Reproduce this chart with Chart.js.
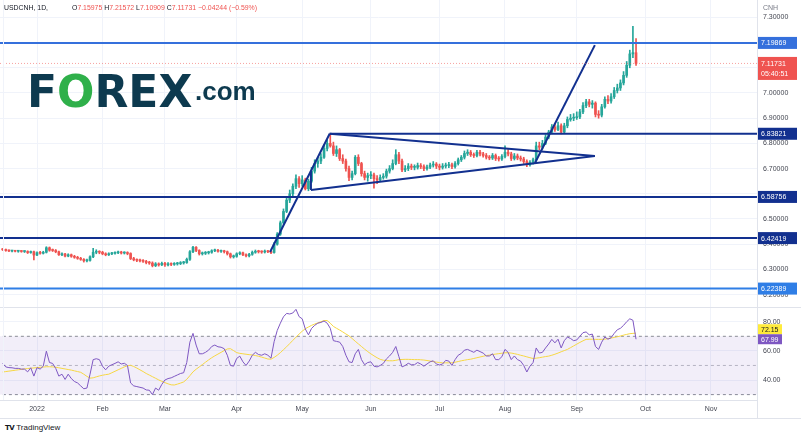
<!DOCTYPE html>
<html>
<head>
<meta charset="utf-8">
<title>USDCNH 1D</title>
<script src="https://cdn.jsdelivr.net/npm/chart.js@4.4.1/dist/chart.umd.min.js"></script>
<style>
  html, body { margin: 0; padding: 0; background: #ffffff; }
  #wrap { position: relative; width: 801px; height: 438px; overflow: hidden; font-family: "Liberation Sans", Arial, sans-serif; }
  #wrap canvas { position: absolute; left: 0; }
  #priceCanvas { top: 0; }
  #rsiCanvas { top: 307px; }
  .line { position: absolute; background: #e0e3eb; }
  #header { position: absolute; top: 4px; left: 4px; width: 300px; height: 9px; font-size: 6.9px; line-height: 8px; color: #131722; white-space: pre; }
  #header .vals { position: absolute; left: 68px; top: 0; }
  #header .red { color: #ef5350; }
  #logo { position: absolute; left: 27px; top: 70px; font-family: "DejaVu Sans"; font-weight: bold; font-size: 44px; line-height: 44px; color: #0d3a4f; white-space: pre; }
  #logo .o { color: #2fb04a; }
  #logoCom { position: absolute; left: 195px; top: 78px; font-family: "Liberation Sans"; font-weight: bold; font-size: 26px; line-height: 26px; color: #0d3a4f; }
  #footer { position: absolute; left: 5px; top: 423px; font-size: 8px; line-height: 10px; color: #131722; white-space: pre; }
  #footer b { font-family: "DejaVu Sans"; font-weight: 900; font-size: 7px; letter-spacing: -0.5px; }
</style>
</head>
<body>
<div id="wrap">
  <canvas id="priceCanvas" width="801" height="307"></canvas>
  <canvas id="rsiCanvas" width="801" height="111"></canvas>
  <div class="line" style="left:0;top:307px;width:801px;height:1px;"></div>
  <div class="line" style="left:0;top:418px;width:801px;height:1px;"></div>
  <div class="line" style="left:757px;top:0;width:1px;height:419px;"></div>
  <div class="line" style="left:3px;top:0;width:1px;height:400px;background:#f0f3fa;"></div>
  <div id="header"></div>
  <div id="logo">F<span class="o">O</span>REX</div>
  <div id="logoCom">.com</div>
  <div id="footer"><b>TV</b> TradingView</div>
</div>
<script>
// ---- values (USDCNH daily candles, mid Dec 2021 .. 28 Sep 2022) ----
// bar index 0 = 3 Jan 2022, one step per trading day
const firstBar = -11;
const monthStarts = [0, 21, 41, 64, 85, 107, 129, 150, 173, 195, 216];
const monthLabels = ['2022', 'Feb', 'Mar', 'Apr', 'May', 'Jun', 'Jul', 'Aug', 'Sep', 'Oct', 'Nov'];

const opens = [
  6.380, 6.378, 6.375, 6.373, 6.373, 6.372, 6.372, 6.371, 6.371, 6.367, 6.370,
  6.357, 6.366, 6.364, 6.368, 6.386, 6.376, 6.375, 6.370, 6.358, 6.361, 6.353, 6.358, 6.352, 6.348, 6.344, 6.340, 6.334, 6.336, 6.350, 6.368, 6.370,
  6.368, 6.362, 6.358, 6.362, 6.364, 6.366, 6.368, 6.365, 6.366, 6.363, 6.343, 6.338, 6.336, 6.334, 6.332, 6.327, 6.325, 6.315, 6.322, 6.318,
  6.324, 6.318, 6.322, 6.320, 6.322, 6.323, 6.326, 6.327, 6.340, 6.370, 6.388, 6.375, 6.362, 6.364, 6.366, 6.368, 6.374, 6.376, 6.372, 6.372, 6.370, 6.362, 6.350,
  6.352, 6.362, 6.366, 6.358, 6.354, 6.360, 6.368, 6.372, 6.370, 6.369, 6.372, 6.370, 6.367, 6.400, 6.440, 6.485, 6.530, 6.575, 6.600, 6.630, 6.660,
  6.640, 6.655, 6.620, 6.650, 6.690, 6.720, 6.730, 6.745, 6.780, 6.800, 6.790, 6.760, 6.775, 6.740, 6.730, 6.700, 6.665, 6.680, 6.745, 6.720, 6.680, 6.665,
  6.672, 6.675, 6.660, 6.655, 6.665, 6.670, 6.690, 6.700, 6.720, 6.755, 6.730, 6.695, 6.700, 6.710, 6.705, 6.705, 6.712, 6.708, 6.700, 6.706, 6.714, 6.718,
  6.710, 6.705, 6.710, 6.712, 6.715, 6.708, 6.720, 6.735, 6.745, 6.760, 6.765, 6.755, 6.752, 6.765, 6.758, 6.752, 6.745, 6.742, 6.752, 6.740, 6.738,
  6.748, 6.765, 6.758, 6.740, 6.750, 6.742, 6.738, 6.728, 6.715, 6.725, 6.735, 6.790, 6.785, 6.800, 6.825, 6.845, 6.865, 6.855, 6.870, 6.845, 6.870, 6.895, 6.900,
  6.902, 6.905, 6.925, 6.950, 6.965, 6.955, 6.960, 6.915, 6.912, 6.945, 6.975, 6.968, 6.985, 7.010, 7.020, 7.040, 7.070, 7.110, 7.155, 7.15975
];
const highs = [
  6.383, 6.381, 6.378, 6.376, 6.376, 6.375, 6.375, 6.374, 6.374, 6.373, 6.373,
  6.370, 6.372, 6.372, 6.390, 6.389, 6.381, 6.379, 6.373, 6.366, 6.364, 6.362, 6.361, 6.356, 6.352, 6.348, 6.343, 6.341, 6.354, 6.384, 6.378, 6.374,
  6.372, 6.366, 6.366, 6.368, 6.370, 6.373, 6.372, 6.370, 6.370, 6.366, 6.348, 6.342, 6.341, 6.339, 6.336, 6.332, 6.330, 6.327, 6.326, 6.329,
  6.328, 6.327, 6.326, 6.327, 6.328, 6.331, 6.332, 6.345, 6.375, 6.392, 6.391, 6.378, 6.369, 6.371, 6.372, 6.378, 6.381, 6.380, 6.377, 6.376, 6.373, 6.365, 6.357,
  6.366, 6.370, 6.369, 6.362, 6.364, 6.373, 6.377, 6.376, 6.374, 6.377, 6.376, 6.374, 6.406, 6.446, 6.492, 6.540, 6.590, 6.615, 6.640, 6.675, 6.668,
  6.672, 6.662, 6.658, 6.705, 6.735, 6.745, 6.760, 6.795, 6.815, 6.838, 6.805, 6.790, 6.780, 6.755, 6.738, 6.710, 6.690, 6.752, 6.755, 6.725, 6.690, 6.682,
  6.688, 6.682, 6.672, 6.675, 6.680, 6.698, 6.712, 6.735, 6.775, 6.765, 6.738, 6.712, 6.720, 6.718, 6.715, 6.722, 6.720, 6.715, 6.714, 6.722, 6.728, 6.724,
  6.718, 6.720, 6.722, 6.725, 6.722, 6.728, 6.742, 6.752, 6.770, 6.775, 6.772, 6.762, 6.772, 6.772, 6.765, 6.760, 6.752, 6.760, 6.758, 6.748, 6.756,
  6.790, 6.775, 6.765, 6.760, 6.758, 6.750, 6.745, 6.735, 6.732, 6.742, 6.805, 6.805, 6.812, 6.835, 6.852, 6.875, 6.880, 6.885, 6.878, 6.880, 6.905, 6.915, 6.918,
  6.925, 6.935, 6.962, 6.975, 6.975, 6.970, 6.965, 6.930, 6.955, 6.985, 6.990, 6.998, 7.022, 7.035, 7.052, 7.085, 7.125, 7.170, 7.265, 7.21572
];
const lows = [
  6.375, 6.372, 6.370, 6.369, 6.369, 6.368, 6.368, 6.367, 6.363, 6.364, 6.338,
  6.354, 6.360, 6.361, 6.365, 6.372, 6.371, 6.366, 6.355, 6.354, 6.350, 6.350, 6.348, 6.344, 6.340, 6.336, 6.329, 6.330, 6.333, 6.347, 6.362, 6.362,
  6.358, 6.354, 6.355, 6.358, 6.360, 6.362, 6.361, 6.361, 6.358, 6.339, 6.334, 6.331, 6.330, 6.328, 6.322, 6.320, 6.310, 6.311, 6.313, 6.315,
  6.312, 6.314, 6.315, 6.316, 6.317, 6.319, 6.321, 6.324, 6.336, 6.366, 6.370, 6.357, 6.357, 6.359, 6.361, 6.364, 6.370, 6.368, 6.367, 6.365, 6.357, 6.345, 6.345,
  6.348, 6.358, 6.354, 6.350, 6.350, 6.356, 6.364, 6.365, 6.364, 6.365, 6.366, 6.362, 6.364, 6.396, 6.435, 6.480, 6.525, 6.565, 6.590, 6.620, 6.625,
  6.630, 6.615, 6.612, 6.645, 6.682, 6.705, 6.720, 6.740, 6.770, 6.785, 6.752, 6.748, 6.732, 6.720, 6.690, 6.652, 6.655, 6.675, 6.712, 6.670, 6.655, 6.650,
  6.660, 6.622, 6.640, 6.648, 6.658, 6.662, 6.682, 6.695, 6.715, 6.720, 6.688, 6.688, 6.692, 6.696, 6.695, 6.698, 6.700, 6.692, 6.694, 6.700, 6.706, 6.700,
  6.695, 6.698, 6.702, 6.704, 6.700, 6.702, 6.714, 6.728, 6.738, 6.752, 6.748, 6.744, 6.746, 6.750, 6.745, 6.738, 6.735, 6.736, 6.732, 6.730, 6.732,
  6.742, 6.750, 6.732, 6.734, 6.735, 6.730, 6.720, 6.708, 6.710, 6.718, 6.730, 6.775, 6.778, 6.795, 6.818, 6.838, 6.848, 6.850, 6.838, 6.840, 6.862, 6.888, 6.890,
  6.895, 6.898, 6.918, 6.942, 6.945, 6.940, 6.905, 6.900, 6.905, 6.940, 6.958, 6.960, 6.978, 7.000, 7.010, 7.032, 7.062, 7.100, 7.140, 7.10909
];
const closes = [
  6.378, 6.375, 6.373, 6.373, 6.372, 6.372, 6.371, 6.371, 6.367, 6.370, 6.357,
  6.366, 6.364, 6.368, 6.386, 6.376, 6.375, 6.370, 6.358, 6.361, 6.353, 6.358, 6.352, 6.348, 6.344, 6.340, 6.334, 6.336, 6.350, 6.368, 6.370, 6.368,
  6.362, 6.358, 6.362, 6.364, 6.366, 6.368, 6.365, 6.366, 6.363, 6.343, 6.338, 6.336, 6.334, 6.332, 6.327, 6.325, 6.315, 6.322, 6.318, 6.324,
  6.318, 6.322, 6.320, 6.322, 6.323, 6.326, 6.327, 6.340, 6.370, 6.388, 6.375, 6.362, 6.364, 6.366, 6.368, 6.374, 6.376, 6.372, 6.372, 6.370, 6.362, 6.350, 6.352,
  6.362, 6.366, 6.358, 6.354, 6.360, 6.368, 6.372, 6.370, 6.369, 6.372, 6.370, 6.367, 6.400, 6.440, 6.485, 6.530, 6.575, 6.600, 6.630, 6.660, 6.640,
  6.655, 6.620, 6.650, 6.690, 6.720, 6.730, 6.745, 6.780, 6.800, 6.790, 6.760, 6.775, 6.740, 6.730, 6.700, 6.665, 6.680, 6.745, 6.720, 6.680, 6.665, 6.672,
  6.675, 6.660, 6.655, 6.665, 6.670, 6.690, 6.700, 6.720, 6.755, 6.730, 6.695, 6.700, 6.710, 6.705, 6.705, 6.712, 6.708, 6.700, 6.706, 6.714, 6.718, 6.710,
  6.705, 6.710, 6.712, 6.715, 6.708, 6.720, 6.735, 6.745, 6.760, 6.765, 6.755, 6.752, 6.765, 6.758, 6.752, 6.745, 6.742, 6.752, 6.740, 6.738, 6.748,
  6.765, 6.758, 6.740, 6.750, 6.742, 6.738, 6.728, 6.715, 6.725, 6.735, 6.790, 6.785, 6.800, 6.825, 6.845, 6.865, 6.855, 6.870, 6.845, 6.870, 6.895, 6.900, 6.902,
  6.905, 6.925, 6.950, 6.965, 6.955, 6.960, 6.915, 6.912, 6.945, 6.975, 6.968, 6.985, 7.010, 7.020, 7.040, 7.070, 7.110, 7.155, 7.160, 7.11731
];

// RSI(14) and its moving average, lower pane
const rsi = [
  51.4, 49.0, 48.5, 48.4, 48.0, 48.0, 47.5, 47.5, 45.6, 48.4, 42.7,
  48.5, 47.5, 49.5, 59.8, 52.0, 51.4, 48.0, 42.7, 44.0, 40.4, 44.0, 41.0, 39.0, 38.0, 36.0, 34.0, 34.5, 44.0, 54.0, 54.6, 54.0,
  49.5, 47.0, 49.5, 50.5, 51.4, 52.5, 51.0, 51.5, 50.0, 38.0, 36.0, 35.5, 35.0, 34.5, 33.2, 33.0, 30.0, 34.5, 33.0, 37.0,
  40.0, 41.0, 41.5, 42.5, 43.5, 44.5, 45.0, 52.0, 66.0, 72.0, 64.0, 58.0, 58.0, 59.0, 60.5, 63.0, 64.0, 62.8, 62.5, 61.5, 57.0, 50.0, 49.5,
  54.8, 56.4, 52.5, 50.0, 53.0, 57.0, 59.0, 57.5, 57.0, 58.0, 57.0, 55.0, 66.3, 74.0, 79.0, 83.4, 85.7, 85.3, 86.0, 88.5, 83.5,
  82.0, 75.0, 71.0, 75.4, 77.5, 79.0, 79.5, 80.5, 79.0, 75.5, 67.0, 66.5, 66.0, 63.0, 57.0, 52.5, 52.0, 58.0, 61.0, 54.0, 50.5, 52.0,
  52.5, 49.5, 49.0, 50.0, 51.4, 54.5, 56.5, 59.0, 63.0, 56.0, 49.0, 50.0, 51.5, 50.5, 50.5, 52.0, 51.0, 49.5, 51.0, 52.5, 53.2, 51.0,
  50.3, 51.0, 53.5, 53.0, 50.0, 54.0, 57.0, 58.2, 60.5, 61.0, 60.0, 59.0, 60.5, 59.5, 58.5, 56.5, 56.5, 58.0, 54.0, 54.0, 56.0,
  61.0, 59.0, 54.0, 56.5, 54.0, 53.0, 50.0, 45.5, 49.5, 52.0, 62.0, 58.5, 59.0, 62.0, 64.7, 67.9, 65.5, 68.0, 62.0, 67.0, 69.5, 68.5, 67.0,
  67.5, 70.0, 72.5, 73.0, 71.0, 71.5, 63.0, 61.0, 66.0, 69.5, 68.0, 69.0, 72.0, 74.5, 75.5, 77.5, 80.0, 82.0, 81.0, 67.99
];
const rsiMa = [
  45.5, 45.8, 46.1, 46.4, 46.7, 47.0, 47.3, 47.6, 47.9, 48.1, 48.3,
  48.5, 48.7, 48.9, 49.1, 49.1, 49.0, 48.8, 48.4, 48.0, 47.6, 47.2, 46.8, 46.3, 45.8, 45.3, 44.0, 42.5, 41.3, 41.5, 42.2, 42.8,
  43.3, 43.7, 44.0, 45.0, 46.0, 47.0, 48.0, 49.0, 49.8, 50.1, 49.3, 48.2, 47.0, 45.8, 44.5, 43.4, 42.3, 41.2, 40.1, 39.1,
  38.2, 37.4, 36.7, 36.6, 37.2, 37.9, 38.7, 40.5, 43.0, 45.6, 47.4, 49.0, 50.6, 52.2, 53.8, 55.3, 56.6, 57.8, 59.0, 60.2, 61.3, 61.5, 60.2,
  58.8, 58.3, 58.0, 57.7, 57.4, 57.2, 56.8, 56.3, 55.7, 55.1, 54.4, 54.3, 55.5, 57.0, 58.8, 60.8, 62.8, 65.0, 67.2, 69.4, 71.5,
  73.5, 75.2, 76.4, 77.5, 78.4, 79.2, 80.0, 80.8, 80.8, 79.0, 76.8, 75.5, 74.3, 73.0, 71.6, 70.3, 68.5, 66.6, 64.8, 63.0, 61.2, 59.5,
  58.0, 56.6, 55.3, 54.2, 53.6, 53.3, 53.2, 53.2, 53.5, 54.0, 54.1, 54.2, 54.2, 54.1, 54.0, 54.0, 53.9, 53.7, 53.4, 53.0, 52.6, 52.3,
  52.0, 51.8, 51.8, 51.8, 51.8, 52.2, 52.7, 53.2, 53.6, 54.0, 54.3, 54.8, 55.3, 55.8, 56.3, 56.8, 57.1, 57.5, 57.8, 58.1, 58.4,
  58.7, 58.7, 58.5, 58.1, 57.6, 57.0, 56.5, 55.9, 55.3, 54.8, 55.0, 55.3, 55.7, 56.1, 56.4, 57.0, 57.7, 58.5, 59.4, 60.2, 61.0, 62.2, 63.4,
  64.6, 65.8, 66.9, 67.9, 68.0, 68.0, 67.9, 67.9, 67.9, 68.0, 68.4, 68.8, 69.2, 69.7, 70.2, 70.8, 71.3, 71.8, 72.0, 72.15
];

const priceTicks = [6.2, 6.3, 6.4, 6.5, 6.6, 6.7, 6.8, 6.9, 7.0, 7.1, 7.2, 7.3];
const rsiTicks = [40, 60, 80];
const rsiBands = [70, 50, 30];

// horizontal levels drawn on the chart (value, and the bar where each one starts)
const levels = [7.19869, 6.83821, 6.58756, 6.42419, 6.22389];
const levelFrom = [-12, 93.8, -12, -12, -12];
// trend lines / pennant, as [bar, price] pairs
const trendLines = [
  [[74.7, 6.369], [93.8, 6.838]],
  [[93.8, 6.838], [178.8, 6.750]],
  [[87.8, 6.615], [178.8, 6.750]],
  [[87.8, 6.615], [87.8, 6.690]],
  [[159.6, 6.722], [178.8, 7.190]]
];
const countdown = '05:40:51';

// ---- styling ----
const upColor = '#26a69a';
const downColor = '#ef5350';
const navy = '#12308f';
const lightBlue = '#3570dc';
const levelColors = [lightBlue, navy, navy, navy, '#2f7ee6'];
const gridColor = '#f0f3fa';
const axisText = '#434651';
const axisFont = { family: 'Liberation Sans', size: 7 };
const xMin = -11.86, xMax = 230.77;

const last = closes.length - 1;
const barX = closes.map((c, k) => firstBar + k);
const candleColors = closes.map((c, k) => (c >= opens[k] ? upColor : downColor));

// header line
const change = closes[last] - opens[last];
document.getElementById('header').innerHTML =
  'USDCNH, 1D,<span class="vals">O<span class="red">' + opens[last].toFixed(5) + '</span> H<span class="red">' +
  highs[last].toFixed(5) + '</span> L<span class="red">' + lows[last].toFixed(5) + '</span> C<span class="red">' +
  closes[last].toFixed(5) + '</span> <span class="red">\u2212' + Math.abs(change).toFixed(5) + ' (\u2212' +
  Math.abs(change / opens[last] * 100).toFixed(2) + '%)</span></span>';

function segment(points, color, width, dash) {
  return {
    type: 'line',
    data: points.map(p => ({ x: p[0], y: p[1] })),
    borderColor: color,
    borderWidth: width,
    borderDash: dash || [],
    pointRadius: 0,
    fill: false,
    tension: 0,
    order: 0
  };
}

function timeAxis(showLabels) {
  return {
    type: 'linear',
    min: xMin,
    max: xMax,
    offset: false,
    grid: { color: gridColor, drawTicks: false, offset: false },
    border: { display: showLabels, color: '#e0e3eb' },
    ticks: {
      display: showLabels, autoSkip: false, maxRotation: 0, padding: 5,
      color: axisText, font: axisFont,
      callback: v => monthLabels[monthStarts.indexOf(v)] || ''
    },
    afterBuildTicks: s => { s.ticks = monthStarts.map(v => ({ value: v })); },
    afterFit: s => { s.height = showLabels ? 18 : 0; s.paddingLeft = 0; s.paddingRight = 0; }
  };
}

function valueAxis(min, max, ticks, digits) {
  return {
    position: 'right',
    min: min,
    max: max,
    grid: { color: gridColor, drawTicks: false },
    border: { display: false },
    ticks: { padding: 6, color: axisText, font: axisFont, callback: v => Number(v).toFixed(digits) },
    afterBuildTicks: s => { s.ticks = ticks.map(v => ({ value: v })); },
    afterFit: s => { s.width = 44; s.paddingTop = 0; s.paddingBottom = 0; }
  };
}

function drawTag(ctx, x, yc, w, h, bg, fg, lines) {
  ctx.fillStyle = bg;
  ctx.fillRect(x, yc - h / 2, w, h + (lines.length - 1) * 10);
  ctx.fillStyle = fg;
  lines.forEach((t, k) => ctx.fillText(t, x + 4, yc + 0.5 + k * 10));
}

// tags on the price axis
const priceTags = {
  id: 'priceTags',
  afterDraw(chart) {
    const { ctx, scales: { y } } = chart;
    ctx.save();
    ctx.font = '7px "Liberation Sans"';
    ctx.textBaseline = 'middle';
    ctx.textAlign = 'left';
    levels.forEach((v, k) => {
      drawTag(ctx, y.left, y.getPixelForValue(v), 40, 12, levelColors[k], '#ffffff', [v.toFixed(5)]);
    });
    drawTag(ctx, y.left, y.getPixelForValue(closes[last]), 40, 13, downColor, '#ffffff', [closes[last].toFixed(5), countdown]);
    ctx.fillStyle = '#787b86';
    ctx.fillText('CNH', y.left + 6, 8);
    ctx.restore();
  }
};

// tags on the RSI axis
const rsiTags = {
  id: 'rsiTags',
  afterDraw(chart) {
    const { ctx, scales: { y } } = chart;
    ctx.save();
    ctx.font = '7px "Liberation Sans"';
    ctx.textBaseline = 'middle';
    const pRsi = y.getPixelForValue(rsi[last]);
    let pMa = y.getPixelForValue(rsiMa[last]);
    if (pRsi - pMa < 10) pMa = pRsi - 10;
    drawTag(ctx, y.left, pMa, 25, 10, '#ffeb3b', '#131722', [rsiMa[last].toFixed(2)]);
    drawTag(ctx, y.left, pRsi, 25, 10, '#7e57c2', '#ffffff', [rsi[last].toFixed(2)]);
    ctx.restore();
  }
};

const priceDatasets = [
  {
    type: 'bar',
    data: barX.map((x, k) => ({ x: x, y: [opens[k], closes[k]] })),
    backgroundColor: candleColors,
    barThickness: 2,
    minBarLength: 1,
    grouped: false,
    order: 1
  },
  {
    type: 'bar',
    data: barX.map((x, k) => ({ x: x, y: [lows[k], highs[k]] })),
    backgroundColor: candleColors,
    barThickness: 1,
    grouped: false,
    order: 2
  },
  segment([[xMin, closes[last]], [xMax, closes[last]]], 'rgba(239,83,80,0.55)', 1, [1, 2])
];
levels.forEach((v, k) => priceDatasets.push(segment([[levelFrom[k], v], [xMax + 1, v]], levelColors[k], 2)));
trendLines.forEach(t => priceDatasets.push(segment(t, navy, 2)));

new Chart(document.getElementById('priceCanvas'), {
  type: 'bar',
  data: { datasets: priceDatasets },
  options: {
    responsive: false,
    animation: false,
    layout: { padding: 0 },
    plugins: { legend: { display: false }, tooltip: { enabled: false } },
    scales: {
      x: timeAxis(false),
      y: valueAxis(6.1508, 7.369, priceTicks, 5)
    }
  },
  plugins: [priceTags]
});

const bandDatasets = rsiBands.map((v, k) => {
  const d = segment([[xMin - 1, v], [xMax + 1, v]], k === 1 ? 'rgba(120,123,134,0.5)' : '#8a8d96', 1, [3, 3]);
  d.order = 3;
  if (k === 0) {
    d.fill = { value: rsiBands[2] };
    d.backgroundColor = 'rgba(126,87,194,0.1)';
  }
  return d;
});

new Chart(document.getElementById('rsiCanvas'), {
  type: 'line',
  data: {
    datasets: bandDatasets.concat([
      {
        data: rsiMa.map((v, k) => ({ x: barX[k], y: v })),
        borderColor: '#f6d743',
        borderWidth: 1,
        pointRadius: 0,
        order: 1
      },
      {
        data: rsi.map((v, k) => ({ x: barX[k], y: v })),
        borderColor: '#7e57c2',
        borderWidth: 1,
        pointRadius: 0,
        order: 0
      }
    ])
  },
  options: {
    responsive: false,
    animation: false,
    layout: { padding: 0 },
    plugins: { legend: { display: false }, tooltip: { enabled: false } },
    scales: {
      x: timeAxis(true),
      y: valueAxis(26.3, 90.1, rsiTicks, 2)
    }
  },
  plugins: [rsiTags]
});
</script>
</body>
</html>
